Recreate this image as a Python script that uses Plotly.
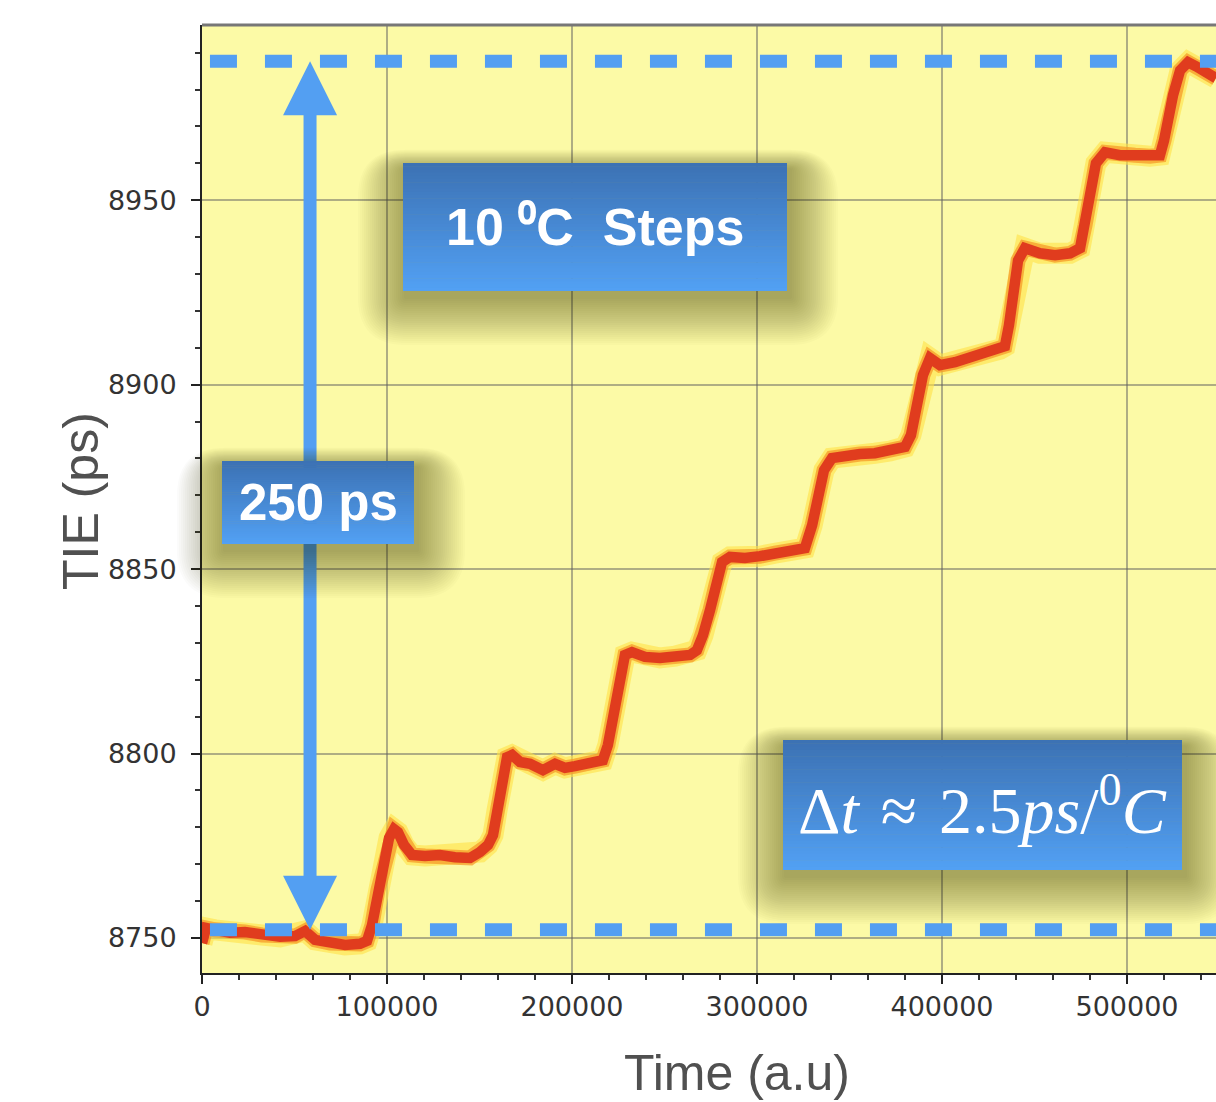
import plotly.graph_objects as go

# ---------------- data ----------------
time_au = [0, 2200, 7000, 15100, 23200, 32400, 42200, 50300, 55700, 61100, 69200, 77300, 85400, 89200,
           91900, 95100, 98400, 101100, 103800, 105900, 109200, 113500, 120500, 128600, 136700, 144900, 150300, 154600, 157300,
           159500, 162200, 164900, 167600, 171900, 177300, 184300, 190800, 196200, 201600, 209700, 216700,
           219400, 222100, 225400, 228600, 232400, 239400, 247500, 255700, 263800, 267500,
           270800, 274600, 277800, 281100, 285400, 293500, 301600, 309700, 317800, 325900,
           329800, 333000, 336200, 340500, 347500, 355600, 363700, 371900, 380000,
           383200, 386400, 389700, 393500, 398900, 407000, 415100, 423200, 431300, 434000,
           436200, 438400, 441100, 444800, 452900, 461100, 469200, 474600,
           477300, 480000, 483200, 488100, 496200, 504300, 512400, 517800,
           520000, 522100, 524900, 528700, 533000, 537300, 542100, 548100]

tie_ps = [8748.6, 8752.7, 8752.2, 8751.4, 8751.6, 8750.8, 8750.3, 8750.5, 8751.9, 8749.5, 8748.6, 8748.1, 8748.4, 8749.2,
          8753.5, 8763.0, 8771.1, 8777.1, 8779.5, 8778.7, 8775.2, 8772.5, 8772.2, 8772.5, 8771.9, 8771.7, 8773.3, 8775.2, 8777.9,
          8784.7, 8792.8, 8799.0, 8799.6, 8797.7, 8797.2, 8795.5, 8797.2, 8796.1, 8796.6, 8797.2, 8798.2,
          8802.3, 8810.4, 8819.9, 8826.7, 8827.5, 8826.2, 8825.9, 8826.4, 8826.7, 8828.0,
          8832.1, 8838.9, 8845.7, 8851.9, 8853.3, 8853.0, 8853.5, 8854.3, 8855.1, 8855.7,
          8861.9, 8870.1, 8876.8, 8880.1, 8880.9, 8881.2, 8881.4, 8882.0, 8883.1,
          8886.3, 8895.0, 8902.6, 8907.2, 8905.3, 8906.1, 8907.2, 8908.3, 8909.6, 8910.4,
          8916.1, 8925.6, 8933.7, 8937.0, 8935.6, 8935.1, 8935.6, 8937.0,
          8943.2, 8952.7, 8960.0, 8963.0, 8962.2, 8962.2, 8961.9, 8962.2,
          8966.2, 8972.2, 8978.5, 8985.2, 8987.4, 8986.3, 8984.7, 8983.1]

level_low = 8752.2
level_high = 8987.7
arrow_time = 58400
dash_start_time = 4300

x_tick_vals = [0, 100000, 200000, 300000, 400000, 500000]
x_tick_text = ["0", "100000", "200000", "300000", "400000", "500000"]
y_tick_vals = [8750, 8800, 8850, 8900, 8950]
y_tick_text = ["8750", "8800", "8850", "8900", "8950"]

label_steps = "10 \u2070C\u00a0\u00a0Steps"
label_range = "250 ps"
label_rate = "\u0394<i>t</i>\u200a \u2248 \u200a2.5<i>ps</i>/<sup>0</sup><i>C</i>"
x_title = "Time (a.u)"
y_title = "TIE (ps)"

# ---------------- geometry / style ----------------
W, H = 1216, 1102
ML, MR, MT, MB = 202, 0, 25, 129
PW, PH = W - ML - MR, H - MT - MB
X_RANGE = [0, 548100]
Y_RANGE = [8740.5, 8997.5]
X_PER_PX = (X_RANGE[1] - X_RANGE[0]) / PW
Y_PER_PX = (Y_RANGE[1] - Y_RANGE[0]) / PH

BLUE = "#539ff2"
BG = "#fcfaa6"


def pxx(px):
    return (px - ML) / PW


def pxy(py):
    return (H - MB - py) / PH


def rrect_path(x0, y0, x1, y1, r):
    pts = [
        ("M", [(x0 + r, y0)]), ("L", [(x1 - r, y0)]), ("Q", [(x1, y0), (x1, y0 + r)]),
        ("L", [(x1, y1 - r)]), ("Q", [(x1, y1), (x1 - r, y1)]),
        ("L", [(x0 + r, y1)]), ("Q", [(x0, y1), (x0, y1 - r)]),
        ("L", [(x0, y0 + r)]), ("Q", [(x0, y0), (x0 + r, y0)]),
    ]
    parts = []
    for cmd, ps in pts:
        parts.append(cmd + " " + " ".join(f"{pxx(a):.5f},{pxy(b):.5f}" for a, b in ps))
    return " ".join(parts) + " Z"


fig = go.Figure()

# glowing red trace (glow + core)
for color, width in [("rgba(255,225,70,0.6)", 21), ("rgba(245,150,35,0.7)", 15), ("#e03c1e", 10.5)]:
    fig.add_trace(go.Scatter(x=time_au, y=tie_ps, mode="lines",
                             line=dict(color=color, width=width),
                             hoverinfo="skip", showlegend=False))

shapes = []

# top frame line
shapes.append(dict(type="line", xref="paper", yref="paper", x0=0, x1=1, y0=1, y1=1,
                   line=dict(color="#777777", width=3), layer="above"))

# dashed level lines
for lvl in (level_low, level_high):
    shapes.append(dict(type="line", xref="x", yref="y", x0=dash_start_time, x1=X_RANGE[1],
                       y0=lvl, y1=lvl, line=dict(color=BLUE, width=13, dash="27px,28px"),
                       layer="above"))

# double arrow
head_len = 54 * Y_PER_PX
head_half = 27 * X_PER_PX
shapes.append(dict(type="line", xref="x", yref="y", x0=arrow_time, x1=arrow_time,
                   y0=level_low + head_len - 1, y1=level_high - head_len + 1,
                   line=dict(color=BLUE, width=13), layer="above"))
for tip, base in ((level_high, level_high - head_len), (level_low, level_low + head_len)):
    shapes.append(dict(type="path", xref="x", yref="y",
                       path=f"M {arrow_time},{tip} L {arrow_time - head_half},{base} "
                            f"L {arrow_time + head_half},{base} Z",
                       fillcolor=BLUE, line=dict(width=0), layer="above"))

annotations = []


def add_box(x0, y0, x1, y1, text, font):
    # soft shadow made of stacked rounded rectangles
    n_sh = 24
    for k in range(1, n_sh + 1):
        e = 2.0 * k
        shapes.append(dict(type="path", xref="paper", yref="paper",
                           path=rrect_path(x0 - e + 3, y0 - 0.4 * e + 6, x1 + e + 3, y1 + e + 6, e),
                           fillcolor="rgba(35,35,0,0.018)", line=dict(width=0), layer="above"))
    # vertical gradient
    n = 40
    top = (60, 114, 180)
    bot = (82, 160, 243)
    h = (y1 - y0) / n
    for i in range(n):
        t = i / (n - 1)
        c = tuple(round(top[j] + (bot[j] - top[j]) * t) for j in range(3))
        shapes.append(dict(type="rect", xref="paper", yref="paper",
                           x0=pxx(x0), x1=pxx(x1),
                           y0=pxy(min(y1, y0 + (i + 1) * h + 0.6)), y1=pxy(y0 + i * h),
                           fillcolor=f"rgb{c}", line=dict(width=0), layer="above"))
    annotations.append(dict(xref="paper", yref="paper", x=pxx((x0 + x1) / 2), y=pxy((y0 + y1) / 2),
                            xanchor="center", yanchor="middle", showarrow=False,
                            text=text, font=font))


add_box(403, 163, 787, 291, f"<b>{label_steps}</b>",
        dict(family="Arial, 'Liberation Sans', sans-serif", size=52, color="white"))
add_box(222, 461, 414, 544, f"<b>{label_range}</b>",
        dict(family="Arial, 'Liberation Sans', sans-serif", size=51, color="white"))
add_box(783, 740, 1182, 870, label_rate,
        dict(family="'Liberation Serif', 'Times New Roman', serif", size=66, color="white"))

# axis titles
annotations.append(dict(xref="paper", yref="paper", x=pxx(737), y=pxy(1073),
                        xanchor="center", yanchor="middle", showarrow=False, text=x_title,
                        font=dict(family="Arial, 'Liberation Sans', sans-serif", size=50, color="#505050")))
annotations.append(dict(xref="paper", yref="paper", x=pxx(81), y=pxy(501),
                        xanchor="center", yanchor="middle", showarrow=False, text=y_title,
                        textangle=-90,
                        font=dict(family="Arial, 'Liberation Sans', sans-serif", size=50, color="#505050")))

tick_font = dict(family="'DejaVu Sans', sans-serif", size=27, color="#333333")
grid_col = "rgba(95,95,95,0.5)"

fig.update_layout(
    width=W, height=H, autosize=False,
    margin=dict(l=ML, r=MR, t=MT, b=MB, pad=0),
    paper_bgcolor="white", plot_bgcolor=BG,
    showlegend=False,
    shapes=shapes, annotations=annotations,
    xaxis=dict(range=X_RANGE, tickmode="array", tickvals=x_tick_vals, ticktext=x_tick_text,
               ticks="outside", ticklen=9, tickwidth=2, tickcolor="#222222",
               showline=True, linecolor="#222222", linewidth=2,
               showgrid=True, gridcolor=grid_col, gridwidth=2, zeroline=False,
               tickfont=tick_font, ticklabelstandoff=0,
               minor=dict(tickmode="linear", tick0=0, dtick=20000, ticks="outside",
                          ticklen=5, tickwidth=1.5, tickcolor="#333333", showgrid=False)),
    yaxis=dict(range=Y_RANGE, tickmode="array", tickvals=y_tick_vals, ticktext=y_tick_text,
               ticks="outside", ticklen=9, tickwidth=2, tickcolor="#222222",
               showline=True, linecolor="#222222", linewidth=2,
               showgrid=True, gridcolor=grid_col, gridwidth=2, zeroline=False,
               tickfont=tick_font, ticklabelstandoff=9,
               minor=dict(tickmode="linear", tick0=8740, dtick=10, ticks="outside",
                          ticklen=5, tickwidth=1.5, tickcolor="#333333", showgrid=False)),
)

fig.write_html("out.html")
